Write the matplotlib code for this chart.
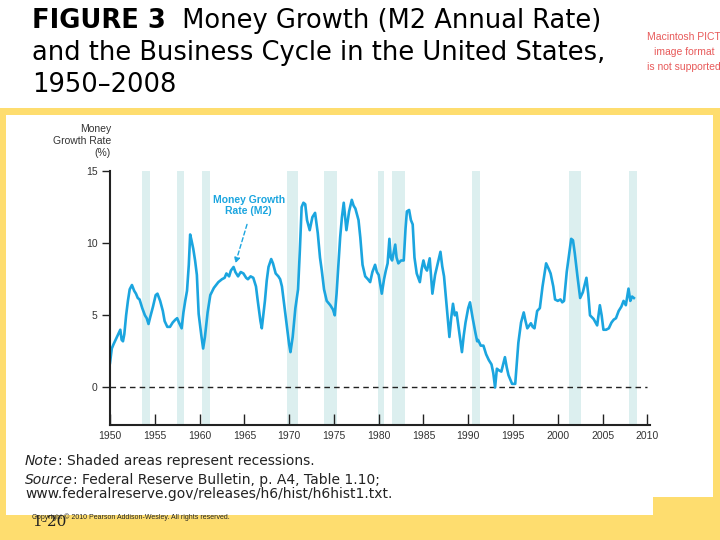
import matplotlib
matplotlib.use("Agg")
import matplotlib.pyplot as plt
from matplotlib.patches import Rectangle

# M2 growth rate (%)
years = [
    1950.0, 1950.2, 1950.4, 1950.7, 1951.0, 1951.15, 1951.3, 1951.45, 1951.6, 1951.8,
    1952.0, 1952.2, 1952.45, 1952.7, 1952.9, 1953.1, 1953.3, 1953.6, 1953.9, 1954.1,
    1954.3, 1954.5, 1954.8, 1955.1, 1955.3, 1955.6, 1955.9, 1956.1, 1956.4, 1956.7,
    1957.0, 1957.3, 1957.5, 1957.7, 1958.0, 1958.2, 1958.4, 1958.6, 1958.8, 1958.95,
    1959.1, 1959.3, 1959.5, 1959.7, 1959.9, 1960.2, 1960.4, 1960.6, 1960.9, 1961.2,
    1961.6, 1962.1, 1962.5, 1962.8, 1963.0, 1963.3, 1963.5, 1963.8, 1964.0, 1964.3,
    1964.6, 1964.9, 1965.2, 1965.4, 1965.7, 1966.0, 1966.3, 1966.5, 1966.8, 1966.95,
    1967.1, 1967.3, 1967.5, 1967.7, 1968.0, 1968.2, 1968.5, 1968.8, 1969.0, 1969.2,
    1969.5, 1969.8, 1970.0, 1970.15, 1970.4, 1970.7, 1971.0, 1971.2, 1971.4, 1971.6,
    1971.8, 1972.0, 1972.3, 1972.6, 1972.9, 1973.2, 1973.45, 1973.65, 1973.9, 1974.2,
    1974.6, 1974.9, 1975.1, 1975.3, 1975.5, 1975.7, 1975.9, 1976.1, 1976.4, 1976.7,
    1977.0, 1977.2, 1977.4, 1977.75, 1977.95, 1978.2, 1978.5, 1978.8, 1979.05, 1979.3,
    1979.6, 1979.8, 1980.0, 1980.35, 1980.6, 1980.8, 1981.0, 1981.2, 1981.35, 1981.5,
    1981.85, 1982.0, 1982.2, 1982.5, 1982.8, 1983.0, 1983.15, 1983.4, 1983.6, 1983.8,
    1984.0, 1984.25, 1984.6, 1984.8, 1985.0, 1985.2, 1985.4, 1985.7, 1986.0, 1986.3,
    1986.6, 1986.9, 1987.1, 1987.3, 1987.6, 1987.9, 1988.1, 1988.3, 1988.5, 1988.7,
    1989.0, 1989.3, 1989.5, 1989.7, 1990.0, 1990.2, 1990.5, 1990.8, 1991.0, 1991.1,
    1991.4, 1991.7, 1992.0, 1992.3, 1992.6, 1992.8, 1993.0, 1993.2, 1993.4, 1993.7,
    1994.1, 1994.3, 1994.5, 1994.9, 1995.25, 1995.6, 1995.9, 1996.2, 1996.4, 1996.6,
    1997.0, 1997.2, 1997.4, 1997.7, 1998.0, 1998.3, 1998.7, 1999.0, 1999.2, 1999.5,
    1999.7, 2000.0, 2000.3, 2000.5, 2000.7, 2001.0, 2001.3, 2001.5, 2001.7, 2001.9,
    2002.2, 2002.5, 2002.8, 2003.2, 2003.4, 2003.6, 2004.0, 2004.4, 2004.7, 2004.9,
    2005.1, 2005.4, 2005.7, 2006.0, 2006.25, 2006.5, 2006.8, 2007.1, 2007.35, 2007.6,
    2007.9, 2008.1, 2008.3, 2008.5,
]
m2_growth = [
    1.7, 2.7, 3.0, 3.4, 3.8, 4.0, 3.3, 3.2, 3.7, 5.0,
    6.0, 6.8, 7.1, 6.7, 6.5, 6.2, 6.1, 5.5, 5.0, 4.8,
    4.4, 4.9, 5.6, 6.4, 6.5, 6.0, 5.3, 4.6, 4.2, 4.2,
    4.5, 4.7, 4.8, 4.5, 4.1, 5.2, 6.0, 6.7, 8.5, 10.6,
    10.2, 9.6, 8.8, 7.8, 5.1, 3.6, 2.7, 3.5, 5.2, 6.4,
    6.9, 7.3, 7.5, 7.6, 7.9, 7.7, 8.1, 8.35, 8.0, 7.7,
    8.0, 7.9, 7.6, 7.5, 7.7, 7.6, 7.0, 6.0, 4.6, 4.1,
    4.9, 6.0, 7.4, 8.35, 8.9, 8.6, 7.9, 7.7, 7.5, 7.0,
    5.5, 4.0, 3.0, 2.45, 3.5, 5.5, 6.8, 9.5, 12.5, 12.8,
    12.7, 11.6, 10.9, 11.8, 12.1, 10.7, 9.0, 8.1, 6.8, 6.0,
    5.7, 5.4, 5.0, 6.5, 8.5, 10.4, 11.8, 12.8, 10.9, 12.2,
    13.0, 12.6, 12.4, 11.6, 10.4, 8.5, 7.7, 7.5, 7.3, 8.0,
    8.5, 8.0, 7.8, 6.5, 7.5, 8.1, 8.6, 10.3, 9.0, 8.8,
    9.9, 9.0, 8.6, 8.8, 8.8, 11.0, 12.2, 12.3, 11.6, 11.3,
    9.0, 7.9, 7.3, 8.2, 8.8, 8.3, 8.1, 8.95, 6.5, 7.8,
    8.6, 9.4, 8.4, 7.7, 5.6, 3.5, 4.8, 5.8, 5.0, 5.2,
    3.8, 2.45, 3.6, 4.5, 5.5, 5.9, 4.8, 3.8, 3.2, 3.3,
    2.9, 2.9, 2.3, 1.9, 1.6, 1.0, 0.0, 1.3, 1.2, 1.1,
    2.1, 1.4, 0.85, 0.25, 0.25, 3.1, 4.5, 5.2, 4.6, 4.1,
    4.45, 4.2, 4.1, 5.3, 5.5, 7.0, 8.6, 8.2, 7.9, 7.0,
    6.1, 6.0, 6.1, 5.9, 6.0, 8.0, 9.4, 10.3, 10.2, 9.3,
    7.7, 6.2, 6.6, 7.6, 6.5, 5.0, 4.75, 4.3, 5.7, 5.0,
    4.0, 4.0, 4.1, 4.5, 4.7, 4.8, 5.3, 5.6, 6.0, 5.7,
    6.85, 6.0, 6.3, 6.2,
]

# recessions (start, end) as shown by the shading
rec_start = [1953.55, 1957.5, 1960.25, 1969.75, 1973.85, 1979.9, 1981.5, 1990.4, 2001.2, 2007.9]
rec_end = [1954.45, 1958.25, 1961.15, 1970.95, 1975.3, 1980.6, 1982.95, 1991.35, 2002.55, 2008.8]

x_ticks = [1950, 1955, 1960, 1965, 1970, 1975, 1980, 1985, 1990, 1995, 2000, 2005, 2010]
y_ticks = [0, 5, 10, 15]

LINE_BLUE = "#1ba5df"
SHADE = "#dcefef"
YELLOW = "#fedd6f"
W, H = 720, 540

fig = plt.figure(figsize=(7.2, 5.4), dpi=100)
fig.patch.set_facecolor("white")

# slide frame: yellow band + white panel
fig.patches.append(Rectangle((0, 0), 1, 1 - 108 / H, transform=fig.transFigure,
                             facecolor=YELLOW, edgecolor="none", zorder=-3))
fig.patches.append(Rectangle((6 / W, 1 - 497 / H), 707 / W, 382 / H, transform=fig.transFigure,
                             facecolor="white", edgecolor="none", zorder=-2))
fig.patches.append(Rectangle((6 / W, 1 - 515 / H), 647 / W, 18 / H, transform=fig.transFigure,
                             facecolor="white", edgecolor="none", zorder=-2))

# chart
ax = fig.add_axes([110 / W, 1 - 425 / H, 540 / W, 254 / H])
ax.patch.set_alpha(0)
for s, e in zip(rec_start, rec_end):
    ax.axvspan(s, e, ymin=0, ymax=1, facecolor=SHADE, edgecolor="none", zorder=0)
ax.plot([1950, 2010], [0, 0], color="#222222", lw=1, ls=(0, (4, 3)), zorder=1)
ax.plot(years, m2_growth, color=LINE_BLUE, lw=1.9, zorder=2)

ax.set_xlim(1950, 2010.3)
ax.set_ylim(-2.6, 15)
for side in ["top", "right"]:
    ax.spines[side].set_visible(False)
for side in ["left", "bottom"]:
    ax.spines[side].set_linewidth(1.5)
    ax.spines[side].set_color("#222222")
ax.set_xticks(x_ticks)
ax.set_yticks(y_ticks)
ax.tick_params(axis="x", direction="in", length=8, width=1, pad=4,
               labelsize=7.5, labelcolor="#333333", color="#222222")
ax.tick_params(axis="y", direction="out", length=6, width=1, pad=3,
               labelsize=7.5, labelcolor="#333333", color="#222222")
for lab in ax.get_xticklabels() + ax.get_yticklabels():
    lab.set_family("Liberation Sans")

fig.text(111 / W, 1 - 141 / H, "Money\nGrowth Rate\n(%)", ha="right", va="center",
         fontsize=7.5, color="#333333", family="Liberation Sans", linespacing=1.25)

# callout: label plus dashed arrow down to the line
ax.text(1965.5, 12.6, "Money Growth\nRate (M2)", ha="center", va="center",
        fontsize=7.5, fontweight="bold", color=LINE_BLUE, family="Liberation Sans",
        linespacing=1.2)
ax.annotate("", xy=(1964.0, 8.6), xytext=(1965.3, 11.3),
            arrowprops=dict(arrowstyle="-|>", color=LINE_BLUE, lw=1, ls=(0, (3, 2)),
                            mutation_scale=8, shrinkA=0, shrinkB=0))

renderer = fig.canvas.get_renderer()


def text_run(x_px, y_px, parts, **kw):
    # place a row of differently styled pieces one after another
    x = x_px / W
    for txt, style in parts:
        t = fig.text(x, 1 - y_px / H, txt, ha="left", va="center", **style, **kw)
        bb = t.get_window_extent(renderer)
        x = bb.x1 / W


# title
title_kw = dict(fontsize=18.5, color="black", family="DejaVu Sans")
text_run(32, 21, [("FIGURE 3", dict(fontweight="bold")),
                  ("  Money Growth (M2 Annual Rate)", {})], **title_kw)
fig.text(32 / W, 1 - 53 / H, "and the Business Cycle in the United States,",
         ha="left", va="center", **title_kw)
fig.text(32 / W, 1 - 85 / H, "1950–2008", ha="left", va="center", **title_kw)

fig.text(684 / W, 1 - 52 / H, "Macintosh PICT\nimage format\nis not supported",
         ha="center", va="center", fontsize=7.5, color="#e85a5a",
         family="Liberation Sans", linespacing=1.65)

# notes
note_kw = dict(fontsize=10, color="#222222", family="DejaVu Sans")
text_run(25, 461, [("Note", dict(style="italic")), (": Shaded areas represent recessions.", {})], **note_kw)
text_run(25, 480, [("Source", dict(style="italic")),
                   (": Federal Reserve Bulletin, p. A4, Table 1.10;", {})], **note_kw)
fig.text(25 / W, 1 - 494 / H, "www.federalreserve.gov/releases/h6/hist/h6hist1.txt.",
         ha="left", va="center", **note_kw)

fig.text(32 / W, 1 - 522 / H, "1-20", ha="left", va="center", fontsize=11,
         color="#222222", family="DejaVu Serif")
fig.text(32 / W, 1 - 517 / H, "Copyright © 2010 Pearson Addison-Wesley. All rights reserved.",
         ha="left", va="center", fontsize=5, color="#222222", family="Liberation Sans")

fig.savefig("out.png", dpi=100)
